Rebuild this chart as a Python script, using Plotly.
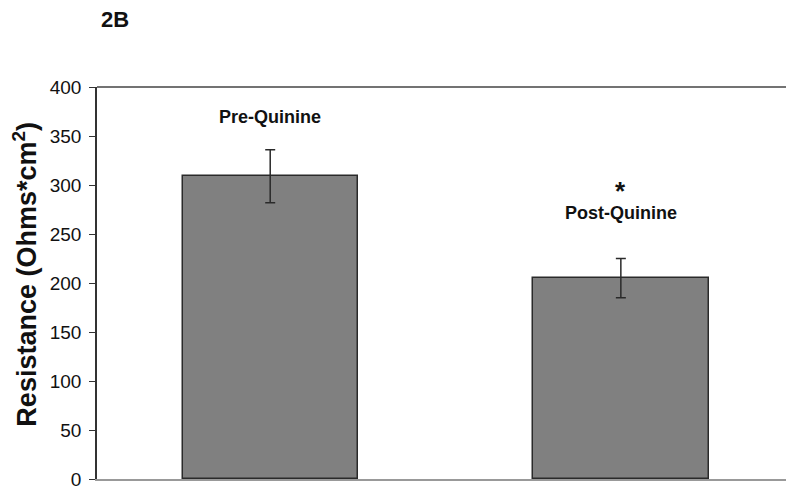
import plotly.graph_objects as go

# Transepithelial resistance before and after quinine
categories = ["Pre-Quinine", "Post-Quinine"]
resistance = [309, 205]
resistance_err = [27, 20]
bar_labels = ["Pre-Quinine", "Post-Quinine"]
y_ticks = [0, 50, 100, 150, 200, 250, 300, 350, 400]

FONT = "Liberation Sans, Arial"
x_pos = list(range(len(categories)))

fig = go.Figure()
fig.add_trace(go.Bar(
    x=x_pos,
    y=resistance,
    width=0.5,
    marker=dict(color="#808080", line=dict(color="#2a2a2a", width=1.5)),
    error_y=dict(type="data", array=resistance_err, visible=True,
                 color="#2a2a2a", thickness=1.5, width=5),
    showlegend=False,
    hoverinfo="skip",
))

# Category labels placed above each bar (gap above the error bar, in data units)
label_offsets = [33, 46]
for xi, lab, v, e, off in zip(x_pos, bar_labels, resistance, resistance_err, label_offsets):
    fig.add_annotation(x=xi, y=v + e + off, text=f"<b>{lab}</b>", showarrow=False,
                       xref="x", yref="y", yanchor="middle",
                       font=dict(family=FONT, size=18, color="#111"))

# Significance marker over the post-treatment bar
fig.add_annotation(x=x_pos[1], y=resistance[1] + resistance_err[1] + 69, text="<b>*</b>",
                   showarrow=False, xref="x", yref="y", yanchor="middle",
                   font=dict(family=FONT, size=26, color="#111"))

# Panel label
fig.add_annotation(x=0.003, y=1.173, xref="paper", yref="paper", text="<b>2B</b>",
                   showarrow=False, xanchor="left", yanchor="middle",
                   font=dict(family=FONT, size=22, color="#111"))

# Y-axis title, placed as a rotated annotation
fig.add_annotation(x=-0.105, y=0.523, xref="paper", yref="paper",
                   text="<b>Resistance (Ohms*cm<sup>2</sup>)</b>", textangle=-90,
                   showarrow=False, xanchor="center", yanchor="middle",
                   font=dict(family=FONT, size=27, color="#111"))

# Top frame line of the plot area
fig.add_shape(type="line", xref="paper", yref="paper", x0=0, x1=1, y0=1, y1=1,
              line=dict(color="#444", width=1.5))

fig.update_layout(
    width=786, height=491,
    margin=dict(l=97, r=0, t=87, b=12),
    paper_bgcolor="white", plot_bgcolor="white",
    bargap=0,
    xaxis=dict(range=[-0.494, 1.471], showticklabels=False, ticks="",
               showgrid=False, zeroline=False, showline=True,
               linecolor="#999", linewidth=1.5),
    yaxis=dict(range=[0, 400], tickvals=y_ticks, ticks="outside", ticklen=6,
               tickcolor="#333", showgrid=False, zeroline=False, showline=True,
               linecolor="#333", linewidth=1.5, ticklabelstandoff=4,
               tickfont=dict(family=FONT, size=19, color="#111")),
)

fig.write_html("out.html")
